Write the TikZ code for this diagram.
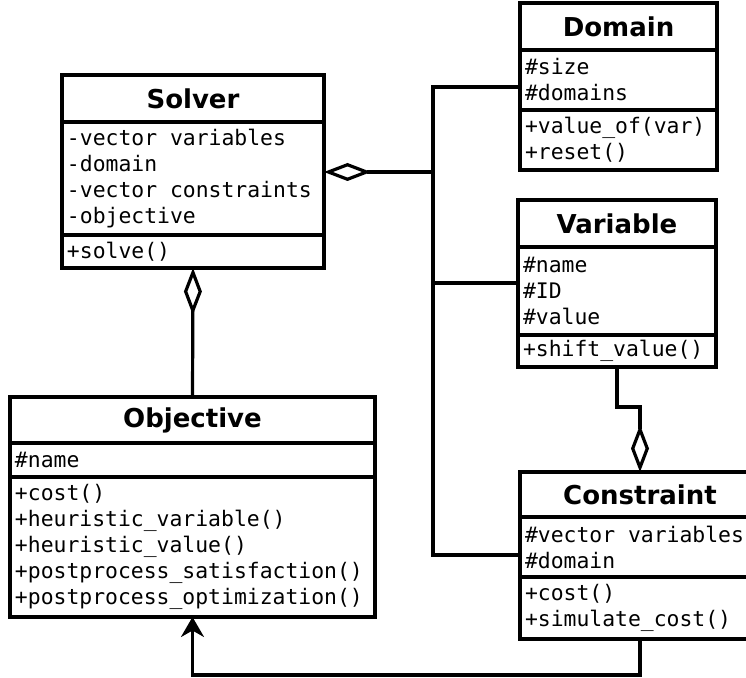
\documentclass[tikz,border=0pt]{standalone}
\usepackage{fontspec}
\setmainfont{DejaVu Sans}
\setmonofont{DejaVu Sans Mono}
\usetikzlibrary{positioning,arrows.meta}
\newcommand\monogap{\hphantom{x}}

\begin{document}
\begin{tikzpicture}[x=0.5pt,y=-0.5pt,
    classname/.style={draw,line width=1.6pt,outer sep=0pt,anchor=north west,inner sep=0pt,
      font=\fontsize{13}{15}\selectfont\bfseries},
    classpart/.style={draw,line width=1.6pt,outer sep=0pt,align=left,inner xsep=2.5pt,inner ysep=0.5pt,
      font=\fontsize{10.7}{13}\selectfont\ttfamily},
    link/.style={line width=1.6pt},
    aggr/.style={link,{Diamond[open,length=23.5pt,width=9pt]}-},
    inherit/.style={link,-{Stealth[length=10pt,width=11.5pt]}}]
  \clip (0,0) rectangle (746,678);

  % classes
  \node[classname,minimum width=131pt,minimum height=23.5pt] (solver) at (62,75) {Solver};
  \node[classpart,below=0pt of solver,text width=126pt,minimum height=56.5pt] (solver-attr)
    {-vector\monogap variables\\-domain\\-vector\monogap constraints\\-objective};
  \node[classpart,below=0pt of solver-attr,text width=126pt,minimum height=16.5pt] (solver-ops) {+solve()};

  \node[classname,minimum width=98.5pt,minimum height=23.5pt] (domain) at (520,3) {Domain};
  \node[classpart,below=0pt of domain,text width=93.5pt,minimum height=30pt] (domain-attr)
    {\#size\\\#domains};
  \node[classpart,below=0pt of domain-attr,text width=93.5pt,minimum height=30pt] (domain-ops)
    {+value\_of(var)\\+reset()};

  \node[classname,minimum width=99pt,minimum height=23.5pt] (variable) at (518,200) {Variable};
  \node[classpart,below=0pt of variable,text width=94pt,minimum height=44pt] (variable-attr)
    {\#name\\\#ID\\\#value};
  \node[classpart,below=0pt of variable-attr,text width=94pt,minimum height=16pt] (variable-ops)
    {+shift\_value()};

  \node[classname,minimum width=182.5pt,minimum height=23pt] (objective) at (10,397) {Objective};
  \node[classpart,below=0pt of objective,text width=177.5pt,minimum height=17pt] (objective-attr)
    {\#name};
  \node[classpart,below=0pt of objective-attr,text width=177.5pt,minimum height=70pt] (objective-ops)
    {+cost()\\+heuristic\_variable()\\+heuristic\_value()\\+postprocess\_satisfaction()\\+postprocess\_optimization()};

  \node[classname,minimum width=120pt,minimum height=22.5pt] (constraint) at (520,472) {Constraint};
  \node[classpart,below=0pt of constraint,text width=115pt,minimum height=30pt] (constraint-attr)
    {\#vector\monogap variables\\\#domain};
  \node[classpart,below=0pt of constraint-attr,text width=115pt,minimum height=31pt] (constraint-ops)
    {+cost()\\+simulate\_cost()};

  % connectors
  \coordinate (busx) at (433,0);
  \coordinate (domain-link) at ([yshift=-3.5pt]domain-attr.west);
  \coordinate (variable-link) at ([yshift=4pt]variable-attr.west);
  \coordinate (constraint-link) at ([yshift=-4pt]constraint-attr.west);
  \coordinate (solver-link) at ([yshift=3.25pt]solver-attr.east);
  \draw[link] (domain-link) -| (busx |- constraint-link) -- (constraint-link);
  \draw[link] (variable-link) -- (busx |- variable-link);
  \draw[aggr] (solver-link) -- (busx |- solver-link);
  \draw[aggr] (solver-ops.south) -- (objective.north);
  \coordinate (jog) at ([yshift=-20pt]variable-ops.south);
  \draw[aggr] (constraint.north) |- (jog) -- (variable-ops.south);
  \coordinate (low) at ([yshift=-18pt]constraint-ops.south);
  \draw[inherit] (constraint-ops.south) -- (low) -| (objective-ops.south);
\end{tikzpicture}
\end{document}
